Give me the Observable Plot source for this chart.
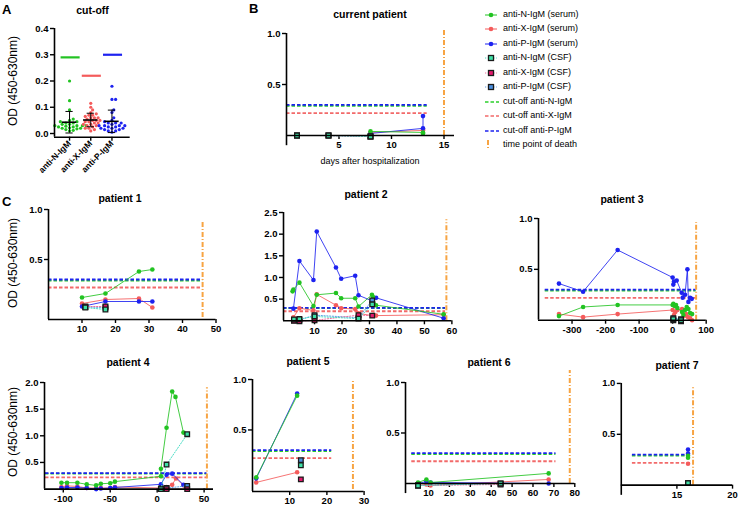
<!DOCTYPE html>
<html><head><meta charset="utf-8">
<script src="https://cdn.jsdelivr.net/npm/d3@7"></script>
<script src="https://cdn.jsdelivr.net/npm/@observablehq/plot@0.6"></script>
<style>
body{margin:0;background:#fff;}
#root{position:relative;width:740px;height:508px;overflow:hidden;font-family:"Liberation Sans",Arial,sans-serif;color:#000;}
.abs{position:absolute;white-space:nowrap;line-height:1;}
.ttl{font-weight:bold;font-size:10.5px;transform:translateX(-50%);}
.let{font-weight:bold;font-size:13px;}
.ylab{font-size:12px;transform:translate(-50%,-50%) rotate(-90deg);}
.leg{font-size:9px;}
.pw{position:absolute;}
.pw svg{overflow:visible;}
.pw g[aria-label="x-axis tick"] path,.pw g[aria-label="y-axis tick"] path{stroke-width:1.4px;}
.pwA g[aria-label="x-axis tick label"] text{font-size:8.5px;}
</style></head>
<body><div id="root"></div>
<script>
// ---------------- DATA ----------------
const markers = ["anti-N-IgM", "anti-X-IgM", "anti-P-IgM"];
const cutoffValues = [0.29, 0.22, 0.30]; // N, X, P

// panel A: control OD values
const ctrlN = [0.20,0.125,0.09,0.055,0.05,0.045,0.045,0.04,0.04,0.035,0.035,0.03,0.03,0.03,0.028,0.025,0.025,0.022,0.02,0.02,0.018,0.015,0.012,0.01,0.03];
const ctrlX = [0.115,0.10,0.09,0.08,0.075,0.07,0.07,0.065,0.06,0.06,0.055,0.05,0.05,0.045,0.045,0.04,0.04,0.035,0.035,0.03,0.03,0.025,0.02,0.02,0.015,0.01,0.06,0.05];
const ctrlP = [0.18,0.13,0.13,0.09,0.08,0.06,0.05,0.045,0.04,0.04,0.035,0.03,0.03,0.03,0.025,0.025,0.02,0.02,0.02,0.015,0.015,0.01,0.01,0.005,0.03,0.04];

// current patient [day, OD]
const cur_N = [[8,0.04],[13,0.03],[13,0.02]];
const cur_X = [[8,0.03],[13,0.05],[13,0.06]];
const cur_P = [[8,0.02],[13,0.07],[13,0.19]];
const cur_csfN = [[1,0.0],[4,0.0],[8,-0.01]];
const cur_csfX = [[1,0.0],[4,0.0],[8,-0.01]];
const cur_csfP = [[1,0.0],[4,0.0],[8,-0.01]];

const p1_N = [[10,0.12],[17,0.16],[27,0.38],[31,0.40]];
const p1_X = [[10,0.06],[17,0.10],[27,0.11],[31,0.02]];
const p1_P = [[10,0.03],[17,0.08],[27,0.08],[31,0.08]];
const p1_csfN = [[11,0.02],[17,0.0]];
const p1_csfX = [[11,0.03],[17,0.03]];
const p1_csfP = [[11,0.025],[17,0.02]];

const p2_N = [[2,0.68],[2.3,0.72],[4.5,0.88],[9.6,0.34],[10.8,0.60],[17.8,0.64],[19.7,0.52],[24.8,0.52],[26,0.33],[30.9,0.60],[31.3,0.55],[32.4,0.36],[57,0.15]];
const p2_X = [[2.3,0.08],[4.5,0.29],[9.6,0.24],[10.8,0.61],[17.8,0.36],[19.7,0.29],[24.8,0.27],[26,0.17],[30.9,0.12],[31.5,0.14],[32.4,0.12],[57,0.14]];
const p2_P = [[2.3,0.28],[4.5,1.38],[9.6,0.94],[10.8,2.06],[17.8,1.23],[19.7,0.97],[24.8,1.04],[26,0.59],[30.9,0.46],[32.4,0.53],[57,0.06]];
const p2_csfN = [[2.5,0.03],[4.5,0.04],[10,0.10],[26,0.05],[31,0.38]];
const p2_csfX = [[2.5,0.0],[4.5,-0.01],[10,0.01],[26,0.13],[31,0.12]];
const p2_csfP = [[2.5,0.01],[4.5,0.02],[10,0.13],[26,0.07],[31,0.47]];

const p3_N = [[-339,0.04],[-267,0.13],[-164,0.15],[0,0.15],[2,0.16],[6,0.14],[10,0.15],[14,0.12],[28,0.08],[32,0.05],[37,0.10],[42,0.13],[47,0.11],[52,0.07],[58,0.06]];
const p3_X = [[-339,0.06],[-267,0.03],[-164,0.06],[0,0.10],[4,0.05],[8,0.08],[14,0.10],[28,0.11],[34,0.04],[40,0.06],[46,0.03],[52,0.02],[58,0.0]];
const p3_P = [[-339,0.36],[-267,0.28],[-164,0.69],[0,0.42],[2,0.35],[4,0.38],[12,0.39],[27,0.27],[30,0.22],[37,0.25],[44,0.50],[47,0.18],[52,0.22],[57,0.21]];
const p3_csfN = [[2,0.01],[25,0.0]];
const p3_csfX = [[2,0.0],[25,-0.01]];
const p3_csfP = [[2,0.02],[25,0.01]];

const p4_N = [[-102,0.12],[-96,0.12],[-85,0.12],[-75,0.09],[-65,0.07],[-60,0.10],[-50,0.11],[-45,0.14],[4,0.24],[4,0.38],[10,1.15],[16,1.83],[19.5,1.73],[28,1.06]];
const p4_X = [[-102,0.04],[-96,0.06],[-85,0.05],[-75,0.02],[-65,0.02],[-60,0.02],[-50,0.02],[-45,0.04],[4,0.02],[10,0.04],[16,0.08],[20,0.20],[28,0.07]];
const p4_P = [[-102,0.02],[-96,0.03],[-85,0.03],[-75,0.02],[-65,0.0],[-60,0.01],[-50,0.02],[-45,0.03],[4,0.09],[10,0.27],[16,0.29],[28,0.08]];
const p4_csfN = [[4,0.0],[10,0.46],[32,1.03]];
const p4_csfX = [[4,0.0],[10,0.0],[32,0.0]];
const p4_csfP = [[4,0.01],[10,0.02],[32,0.06]];

const p5_N = [[1,0.03],[12,0.84]];
const p5_X = [[1,-0.02],[12,0.08]];
const p5_P = [[1,0.02],[12,0.86]];
const p5_csfN = [[13,0.15]];
const p5_csfX = [[13,0.01]];
const p5_csfP = [[13,0.20]];

const p6_N = [[5,0.01],[9,0.04],[11,0.01],[67.5,0.10]];
const p6_X = [[5,-0.02],[9,-0.01],[11,-0.02],[67.5,0.04]];
const p6_P = [[5,0.0],[9,0.02],[11,0.01],[67.5,0.0]];
const p6_csfN = [[5,-0.02],[44.5,0.0]];
const p6_csfX = [[5,-0.02],[44.5,-0.01]];
const p6_csfP = [[5,-0.02],[44.5,0.0]];

const p7_N = [[16,0.29],[16,0.27]];
const p7_X = [[16,0.21]];
const p7_P = [[16,0.35],[16,0.31]];
const p7_csfN = [[16,0.02]];
const p7_csfX = [[16,0.02]];
const p7_csfP = [[16,0.02]];

const panelTitles = ["current patient","patient 1","patient 2","patient 3","patient 4","patient 5","patient 6","patient 7"];
const deathDay = [15, 46, 58, 70, 53, 27, 77.6, 16.45];
const xTickValues = [[5,10,15],[10,20,30,40,50],[10,20,30,40,50,60],[-300,-200,-100,0,100],[-100,-50,0,50],[10,20,30],[10,20,30,40,50,60,70,80],[15,20]];
const yTickValues = [[0.5,1],[0.5,1],[0.5,1,1.5,2,2.5],[0.5,1],[0.5,1,1.5,2],[0.5,1],[0.5,1],[0.5,1]];
const legendLabels = ["anti-N-IgM (serum)","anti-X-IgM (serum)","anti-P-IgM (serum)","anti-N-IgM (CSF)","anti-X-IgM (CSF)","anti-P-IgM (CSF)","cut-off anti-N-IgM","cut-off anti-X-IgM","cut-off anti-P-IgM","time point of death"];

// ---------------- STYLE ----------------
const SER = ["#22c322", "#f45b5b", "#1d22f0"];
const CSF_FILL = ["#3ee0a6", "#e3196d", "#4b8fdf"];
const CSF_LINE = ["#49dcc4", "#ee6f9f", "#5f9fe6"];
const CUT = ["#2bd02b", "#f26a6a", "#1d22f0"];
const DEATH = "#f7a443";
const FONT = '"Liberation Sans", Arial, sans-serif';
const root = document.getElementById("root");

function addDiv(cls, text, left, top) {
  const d = document.createElement("div");
  d.className = "abs " + cls; d.textContent = text;
  d.style.left = left + "px"; d.style.top = top + "px";
  root.appendChild(d); return d;
}
function place(svg, left, top, extra) {
  const w = document.createElement("div"); w.className = "pw" + (extra ? " " + extra : "");
  w.style.left = left + "px"; w.style.top = top + "px";
  w.appendChild(svg); root.appendChild(w);
}

// ---------------- PANEL A ----------------
(function () {
  const L = 54.3, R = 130, T = 28.3, B = 137;
  const ml = 40, mr = 6, mt = 8, mb = 45;
  const xD = [-0.71, 2.86], yD = [-0.014, 0.4];
  const pxY = (B - T) / (yD[1] - yD[0]), pxX = (R - L) / (xD[1] - xD[0]);
  const r = 1.6;
  function swarm(vals) {
    const order = d3.range(vals.length).sort((a, b) => vals[a] - vals[b]);
    const placed = [], off = [];
    for (const i of order) {
      const y = vals[i] * pxY; let k = 0, x = 0;
      while (true) {
        x = k === 0 ? 0 : (k % 2 ? 1 : -1) * Math.ceil(k / 2) * r * 1.15;
        if (placed.every(p => (p[0] - x) ** 2 + (p[1] - y) ** 2 >= (2 * r) ** 2 * 0.85)) break;
        k++;
      }
      placed.push([x, y]); off[i] = x / pxX;
    }
    return off;
  }
  const groups = [ctrlN, ctrlX, ctrlP];
  const pts = [];
  groups.forEach((vals, i) => { const off = swarm(vals); vals.forEach((v, j) => pts.push({i, x: i + off[j], v, col: SER[i]})); });
  const stats = groups.map((vals, i) => ({i, mean: d3.mean(vals), sd: d3.deviation(vals)}));
  const caps = stats.flatMap(s => [{i: s.i, y: Math.max(s.mean - s.sd, yD[0])}, {i: s.i, y: s.mean + s.sd}]);
  const cuts = cutoffValues.map((v, i) => ({i, v, col: SER[i]}));
  const svg = Plot.plot({
    width: R - L + ml + mr, height: B - T + mt + mb,
    marginLeft: ml, marginRight: mr, marginTop: mt, marginBottom: mb,
    style: {fontFamily: FONT, fontSize: "9.5px", fontWeight: "bold", color: "#000", background: "none", overflow: "visible"},
    color: {type: "identity"},
    x: {domain: xD, ticks: [0, 1, 2], tickFormat: i => markers[i], tickRotate: -45, tickSize: 4, tickPadding: 1, label: null},
    y: {domain: yD, ticks: [0, 0.1, 0.2, 0.3, 0.4], tickFormat: d => d.toFixed(1), tickSize: 4, tickPadding: 2, label: null},
    marks: [
      Plot.ruleY(cuts, {y: "v", x1: d => d.i - 0.4, x2: d => d.i + 0.5, stroke: "col", strokeWidth: 2.2}),
      Plot.dot(pts, {x: "x", y: "v", r, fill: "col"}),
      Plot.ruleX(stats, {x: "i", y1: d => Math.max(d.mean - d.sd, yD[0]), y2: d => d.mean + d.sd, stroke: "#000", strokeWidth: 1}),
      Plot.ruleY(caps, {y: "y", x1: d => d.i - 0.17, x2: d => d.i + 0.17, stroke: "#000", strokeWidth: 1}),
      Plot.ruleY(stats, {y: "mean", x1: d => d.i - 0.34, x2: d => d.i + 0.34, stroke: "#000", strokeWidth: 1.6}),
      Plot.ruleY([yD[0]], {stroke: "#000", strokeWidth: 1.6}),
      Plot.ruleX([xD[0]], {stroke: "#000", strokeWidth: 1.6})
    ]
  });
  place(svg, L - ml, T - mt, "pwA");
})();

// ---------------- PATIENT PANELS ----------------
const layouts = [
  {left: 285.5, right: 453.5, top: 33, bottom: 135, xD: [0, 16], yD: [0, 1], yAxisBottom: -0.1, cut: [0, 13.4], deathY: [0, 1.05]},
  {left: 48, right: 215.5, top: 209, bottom: 319, xD: [0, 50], yD: [-0.1, 1], cut: [0, 46], deathY: [-0.08, 0.89]},
  {left: 283.3, right: 451.7, top: 211.7, bottom: 320, xD: [-1.3, 60], yD: [0, 2.5], cut: [-1.3, 57.7], deathY: [0, 2.33]},
  {left: 538.3, right: 706, top: 218.3, bottom: 320, xD: [-400, 100], yD: [0, 1], cut: [-380, 70], deathY: [0, 0.96]},
  {left: 44, right: 213, top: 381.7, bottom: 488.3, xD: [-120, 60], yD: [0, 2], cut: [-119, 53], deathY: [0, 1.9]},
  {left: 251.8, right: 363.4, top: 379, bottom: 491, xD: [0, 30], yD: [-0.11, 1], cut: [0, 21.3], deathY: [-0.09, 1.0]},
  {left: 404.7, right: 574, top: 382.3, bottom: 483.3, xD: [-1, 80], yD: [0, 1], yAxisBottom: -0.1, cut: [2, 71], deathY: [0, 1.12]},
  {left: 621, right: 733, top: 383.3, bottom: 485.7, xD: [10, 20], yD: [0, 1], yAxisBottom: -0.1, cut: [11, 16.3], deathY: [0, 0.97]}
];
const serumSets = [[cur_N, cur_X, cur_P], [p1_N, p1_X, p1_P], [p2_N, p2_X, p2_P], [p3_N, p3_X, p3_P], [p4_N, p4_X, p4_P], [p5_N, p5_X, p5_P], [p6_N, p6_X, p6_P], [p7_N, p7_X, p7_P]];
const csfSets = [[cur_csfN, cur_csfX, cur_csfP], [p1_csfN, p1_csfX, p1_csfP], [p2_csfN, p2_csfX, p2_csfP], [p3_csfN, p3_csfX, p3_csfP], [p4_csfN, p4_csfX, p4_csfP], [p5_csfN, p5_csfX, p5_csfP], [p6_csfN, p6_csfX, p6_csfP], [p7_csfN, p7_csfX, p7_csfP]];

layouts.forEach((c, k) => {
  const ml = 36, mr = 8, mt = 10, mb = 24;
  const X = d => d[0], Y = d => d[1];
  const serum = serumSets[k], csf = csfSets[k];
  const serMarks = [1, 2, 0].flatMap(i => [
    Plot.line(serum[i], {x: X, y: Y, stroke: SER[i], strokeWidth: 1, strokeOpacity: 0.85}),
    Plot.dot(serum[i], {x: X, y: Y, r: 2.3, fill: SER[i]})
  ]);
  const csfMarks = [2, 1, 0].flatMap(i => [
    Plot.line(csf[i], {x: X, y: Y, stroke: CSF_LINE[i], strokeWidth: 1, strokeDasharray: "1.2,1.6"}),
    Plot.dot(csf[i], {x: X, y: Y, symbol: "square", r: 2.6, fill: CSF_FILL[i], stroke: "#1a1a1a", strokeWidth: 1.3})
  ]);
  const cutMarks = [1, 0, 2].map(i => Plot.ruleY([cutoffValues[i]], {y: d => d, x1: () => c.cut[0], x2: () => c.cut[1], stroke: CUT[i], strokeWidth: 1.8, strokeDasharray: "3.5,2"}));
  const svg = Plot.plot({
    width: c.right - c.left + ml + mr, height: c.bottom - c.top + mt + mb,
    marginLeft: ml, marginRight: mr, marginTop: mt, marginBottom: mb,
    style: {fontFamily: FONT, fontSize: "9.5px", fontWeight: "bold", color: "#000", background: "none", overflow: "visible"},
    x: {domain: c.xD, ticks: xTickValues[k], tickFormat: d => String(d), tickSize: 4, tickPadding: 2, label: null},
    y: {domain: c.yD, ticks: yTickValues[k], tickFormat: d => d.toFixed(1), tickSize: 4, tickPadding: 2, label: null},
    marks: [
      ...cutMarks,
      Plot.ruleX([deathDay[k]], {x: d => d, y1: () => c.deathY[0], y2: () => c.deathY[1], stroke: DEATH, strokeWidth: 2, strokeDasharray: "5,2,1,2"}),
      ...serMarks,
      ...csfMarks,
      Plot.ruleY([c.yD[0]], {stroke: "#000", strokeWidth: 1.6}),
      Plot.ruleX([c.xD[0]], {y1: () => (c.yAxisBottom ?? c.yD[0]), y2: () => c.yD[1], stroke: "#000", strokeWidth: 1.6})
    ]
  });
  place(svg, c.left - ml, c.top - mt);
});

// ---------------- TEXT ----------------
addDiv("let", "A", 2, 3);
addDiv("let", "B", 249, 2);
addDiv("let", "C", 2, 195);
addDiv("ttl", "cut-off", 92.5, 5);
const titlePos = [[370, 9], [120, 193], [366, 189], [622, 194], [128, 357], [308, 356], [489, 357], [677, 360]];
panelTitles.forEach((t, k) => addDiv("ttl", t, titlePos[k][0], titlePos[k][1]));
addDiv("", "days after hospitalization", 370, 157).style.cssText += "font-size:9px;transform:translateX(-50%);";
[81, 263, 432].forEach(y => addDiv("ylab", "OD (450-630nm)", 13, y));

// ---------------- LEGEND ----------------
legendLabels.forEach((lab, k) => {
  const y = 14.7 + 14.5 * k;
  const ns = "http://www.w3.org/2000/svg";
  const s = document.createElementNS(ns, "svg");
  s.setAttribute("width", 18); s.setAttribute("height", 12);
  s.style.position = "absolute"; s.style.left = "483px"; s.style.top = (y - 6) + "px"; s.style.overflow = "visible";
  let html = "";
  if (k < 3) {
    html = `<line x1="2" x2="14" y1="6" y2="6" stroke="${SER[k]}" stroke-width="1"/><circle cx="8" cy="6" r="2.3" fill="${SER[k]}"/>`;
  } else if (k < 6) {
    const i = k - 3;
    html = `<line x1="2" x2="14" y1="6" y2="6" stroke="${CSF_LINE[i]}" stroke-width="1" stroke-dasharray="1.2,1.6"/><rect x="5.5" y="3.5" width="5" height="5" fill="${CSF_FILL[i]}" stroke="#1a1a1a" stroke-width="1.3"/>`;
  } else if (k < 9) {
    const i = k - 6;
    html = `<line x1="2" x2="16" y1="6" y2="6" stroke="${CUT[i]}" stroke-width="1.6" stroke-dasharray="3.5,2"/>`;
  } else {
    html = `<line x1="5" x2="5" y1="1" y2="11" stroke="${DEATH}" stroke-width="2" stroke-dasharray="5,2,1,2"/>`;
  }
  s.innerHTML = html;
  root.appendChild(s);
  addDiv("leg", lab, 503, y - 5);
});
</script>
</body></html>
